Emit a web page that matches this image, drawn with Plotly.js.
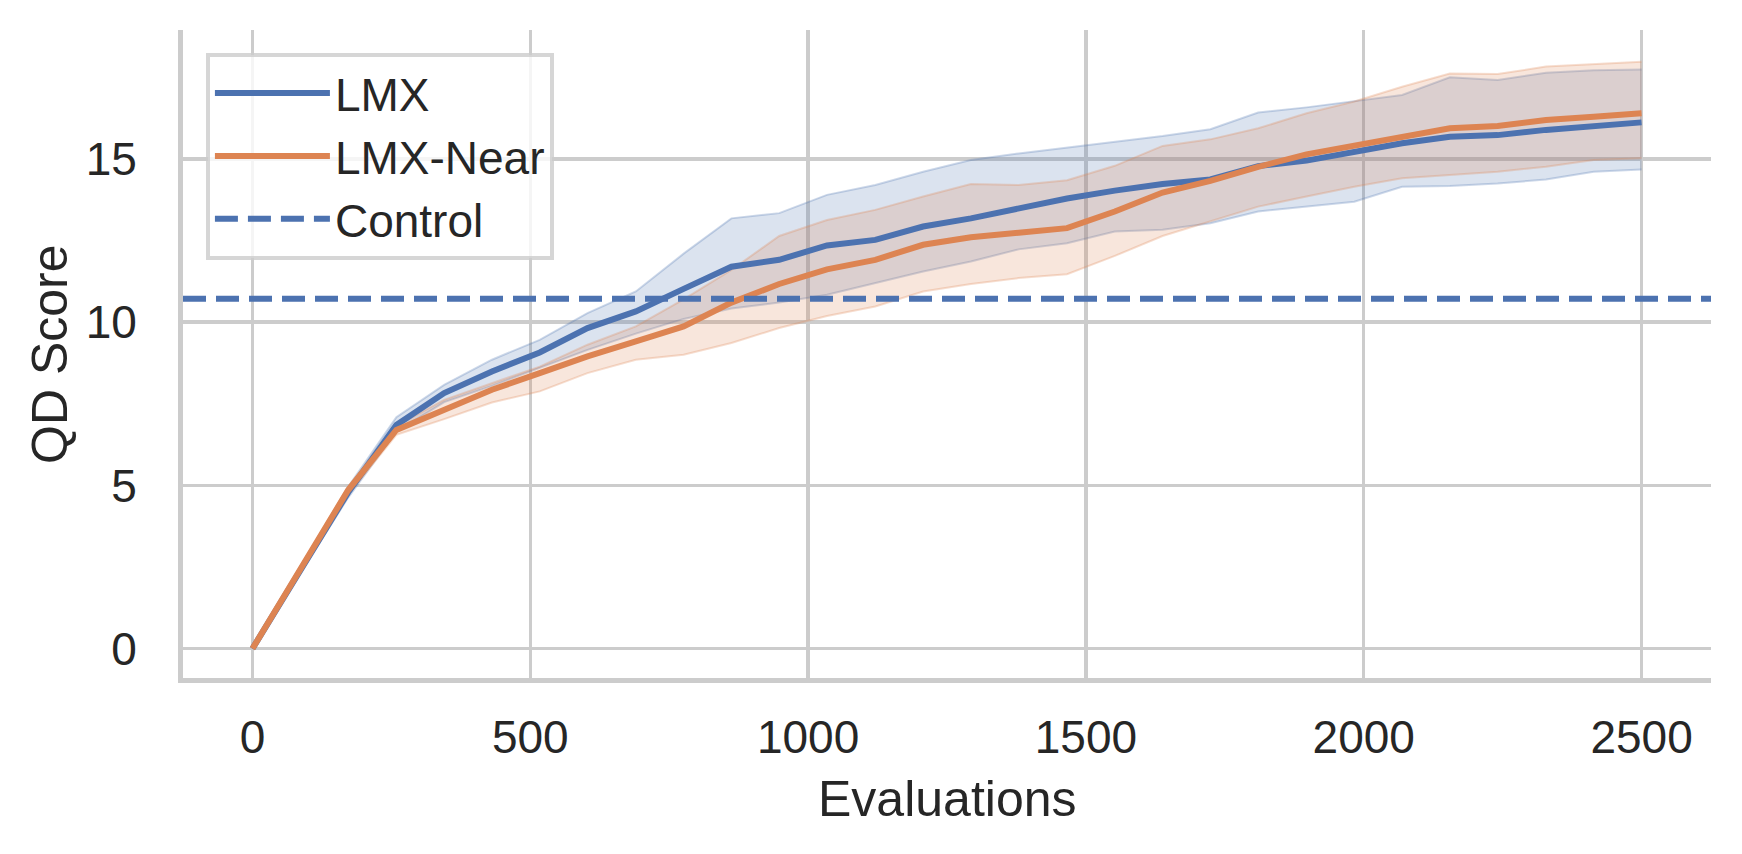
<!DOCTYPE html>
<html>
<head>
<meta charset="utf-8">
<script src="https://cdn.plot.ly/plotly-3.0.1.min.js"></script>
<style>
  html, body { margin: 0; padding: 0; background: #fff; }
  #plot { width: 1742px; height: 854px; }
</style>
</head>
<body>
<div id="plot"></div>
<script>
// evaluations (x)
var evaluations = [0, 86, 172, 259, 345, 431, 517, 603, 690, 776, 862, 948, 1034, 1121, 1207,
    1293, 1379, 1466, 1552, 1638, 1724, 1810, 1897, 1983, 2069, 2155, 2241, 2328, 2414, 2500];

// LMX mean and band
var lmxMean = [0, 2.40, 4.78, 6.85, 7.83, 8.49, 9.07, 9.82, 10.33, 11.02, 11.70, 11.91, 12.35, 12.52, 12.93,
    13.18, 13.48, 13.79, 14.03, 14.23, 14.37, 14.78, 14.95, 15.20, 15.48, 15.68, 15.73, 15.89, 16.01, 16.12];
var lmxUpper = [0, 2.50, 4.95, 7.09, 8.08, 8.85, 9.46, 10.28, 10.94, 12.10, 13.18, 13.34, 13.90, 14.20, 14.61,
    14.97, 15.17, 15.35, 15.53, 15.70, 15.91, 16.42, 16.58, 16.76, 16.96, 17.50, 17.42, 17.64, 17.72, 17.74];
var lmxLower = [0, 2.30, 4.62, 6.65, 7.55, 8.05, 8.60, 9.15, 9.65, 10.10, 10.42, 10.60, 10.84, 11.19, 11.55,
    11.86, 12.23, 12.42, 12.78, 12.83, 13.03, 13.39, 13.54, 13.69, 14.15, 14.17, 14.25, 14.37, 14.61, 14.68];

// LMX-Near mean and band
var nearMean = [0, 2.43, 4.85, 6.70, 7.32, 7.93, 8.44, 8.95, 9.41, 9.87, 10.60, 11.17, 11.62, 11.91, 12.37,
    12.60, 12.74, 12.88, 13.39, 13.97, 14.33, 14.76, 15.14, 15.40, 15.68, 15.94, 16.01, 16.19, 16.29, 16.40];
var nearUpper = [0, 2.50, 4.95, 6.82, 7.62, 8.13, 8.64, 9.31, 9.87, 10.70, 11.60, 12.64, 13.13, 13.44, 13.85,
    14.23, 14.20, 14.35, 14.79, 15.40, 15.60, 15.94, 16.40, 16.76, 17.21, 17.62, 17.60, 17.83, 17.91, 17.98];
var nearLower = [0, 2.36, 4.72, 6.55, 7.03, 7.54, 7.88, 8.44, 8.85, 9.00, 9.36, 9.82, 10.19, 10.48, 10.94,
    11.17, 11.35, 11.47, 12.03, 12.64, 13.08, 13.54, 13.85, 14.15, 14.41, 14.51, 14.61, 14.76, 14.97, 15.02];

// control baseline
var controlScore = 10.72;

var xRange = [-125, 2625];
var yRange = [-0.9, 18.95];

var BLUE = '#4C72B0';
var ORANGE = '#DD8452';
var TXT = '#262626';
var FONT = 'Liberation Sans, Arial, sans-serif';

function band(lower, upper, rgb) {
    var edge = { color: 'rgba(' + rgb + ',0.28)', width: 2 };
    return [
        { x: evaluations, y: lower, mode: 'lines', line: edge, showlegend: false, hoverinfo: 'skip' },
        { x: evaluations, y: upper, mode: 'lines', line: edge, fill: 'tonexty',
          fillcolor: 'rgba(' + rgb + ',0.2)', showlegend: false, hoverinfo: 'skip' }
    ];
}

var data = [].concat(
    band(lmxLower, lmxUpper, '76,114,176'),
    band(nearLower, nearUpper, '221,132,82'),
    [
        { x: evaluations, y: lmxMean, name: 'LMX', mode: 'lines', line: { color: BLUE, width: 6 } },
        { x: evaluations, y: nearMean, name: 'LMX-Near', mode: 'lines', line: { color: ORANGE, width: 6 } },
        { x: xRange, y: [controlScore, controlScore], name: 'Control', mode: 'lines',
          line: { color: BLUE, width: 6, dash: '23px,10px' } }
    ]
);

var layout = {
    width: 1742,
    height: 854,
    margin: { l: 183, r: 31, t: 30, b: 176 },
    paper_bgcolor: '#fff',
    plot_bgcolor: '#fff',
    font: { family: FONT, size: 46, color: TXT },
    xaxis: {
        range: xRange,
        tick0: 0, dtick: 500,
        showgrid: true, gridcolor: '#cccccc', gridwidth: 3.5,
        zeroline: false,
        showline: true, linecolor: '#cccccc', linewidth: 5,
        ticks: '', ticklabelstandoff: 15,
        tickfont: { size: 46, color: TXT }
    },
    yaxis: {
        range: yRange,
        tick0: 0, dtick: 5,
        showgrid: true, gridcolor: '#cccccc', gridwidth: 3.5,
        zeroline: false,
        showline: true, linecolor: '#cccccc', linewidth: 5,
        ticks: '', ticklabelstandoff: 32,
        tickfont: { size: 46, color: TXT }
    },
    annotations: [
        { text: 'Evaluations', xref: 'paper', yref: 'paper', x: 0.5, y: 0,
          xanchor: 'center', yanchor: 'middle', yshift: -121, showarrow: false,
          font: { size: 50, color: TXT } },
        { text: 'QD Score', xref: 'paper', yref: 'paper', x: 0, y: 0.5,
          xanchor: 'center', yanchor: 'middle', xshift: -133, textangle: -90, showarrow: false,
          font: { size: 50, color: TXT } }
    ],
    legend: {
        x: 0.015, y: 0.965, xanchor: 'left', yanchor: 'top',
        traceorder: 'normal',
        bgcolor: 'rgba(255,255,255,0.8)',
        bordercolor: 'rgba(204,204,204,0.8)', borderwidth: 4,
        font: { size: 46, color: TXT },
        itemwidth: 115
    },
    showlegend: true
};

Plotly.newPlot('plot', data, layout, { staticPlot: true });
</script>
</body>
</html>
